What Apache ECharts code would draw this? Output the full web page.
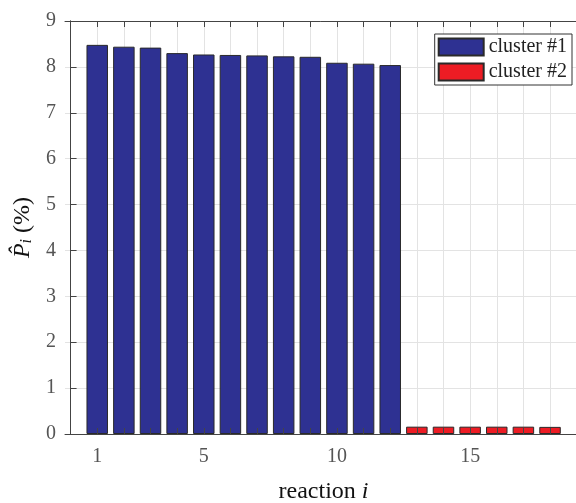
<!DOCTYPE html>
<html><head><meta charset="utf-8">
<script src="https://cdn.jsdelivr.net/npm/echarts@6/dist/echarts.min.js"></script>
<style>html,body{margin:0;padding:0;background:#fff}#c{width:576px;height:503px}</style>
</head><body><div id="c"></div>
<script>
const reactions1 = [1,2,3,4,5,6,7,8,9,10,11,12];
const values1 = [8.48,8.44,8.42,8.30,8.27,8.26,8.25,8.23,8.22,8.09,8.07,8.04];
const reactions2 = [13,14,15,16,17,18];
const values2 = [0.16,0.16,0.16,0.16,0.16,0.155];
const xTickValues = [1,2,3,4,5,6,7,8,9,10,11,12,13,14,15,16,17,18];
const xLabelValues = [1,5,10,15];
const seriesNames = ['cluster #1','cluster #2'];

const FONT = 'Liberation Serif';
const chart = echarts.init(document.getElementById('c'), null, {renderer:'canvas'});
const axisCol = '#444';
const commonX = {
  type:'value', min:-0.21, max:19.2,
  axisLine:{show:true,onZero:false,lineStyle:{color:axisCol,width:1}},
};
chart.setOption({
  animation:false,
  grid:{left:65,right:-6,top:21,bottom:69,containLabel:false,outerBoundsMode:'none'},
  legend:{
    orient:'vertical', right:4, top:34,
    data:seriesNames,
    itemWidth:45, itemHeight:17, itemGap:5,
    padding:[3,5,3,3],
    borderColor:'#333', borderWidth:1, backgroundColor:'#fff',
    textStyle:{fontFamily:FONT,fontSize:20,color:'#222'},
    icon:'rect'
  },
  xAxis:[
    Object.assign({}, commonX, {
      position:'bottom', z:10,
      axisTick:{show:true,inside:true,length:6,lineStyle:{color:axisCol},customValues:xTickValues},
      axisLabel:{show:true,customValues:xLabelValues,margin:13,fontFamily:FONT,fontSize:20,color:'#555'},
      splitLine:{show:false},
      name:'reaction {it|i}', nameLocation:'middle', nameGap:46,
      nameTextStyle:{fontFamily:FONT,fontSize:24,color:'#111',rich:{it:{fontFamily:FONT,fontStyle:'italic',fontSize:24,color:'#111'}}}
    }),
    Object.assign({}, commonX, {
      position:'top', z:0,
      axisTick:{show:true,inside:true,length:6,lineStyle:{color:axisCol},customValues:xTickValues},
      axisLabel:{show:false},
      splitLine:{show:true,lineStyle:{color:'#e3e3e3',width:1}}
    })
  ],
  yAxis:[
    {
      type:'value', min:0, max:9, interval:1, position:'left',
      axisLine:{show:true,lineStyle:{color:axisCol,width:1}},
      axisTick:{show:true,inside:true,length:6,lineStyle:{color:axisCol}},
      axisLabel:{margin:9,fontFamily:FONT,fontSize:20,color:'#555'},
      splitLine:{show:true,lineStyle:{color:'#e3e3e3',width:1}},
      name:'{p|P\u0302}{sub|i}{n| (%)}', nameLocation:'middle', nameGap:27,
      nameTextStyle:{fontFamily:FONT,fontSize:24,color:'#111',
        rich:{
          p:{fontFamily:FONT,fontStyle:'italic',fontSize:24,color:'#111'},
          sub:{fontFamily:FONT,fontStyle:'italic',fontSize:16,color:'#111',verticalAlign:'bottom',padding:[8,0,0,0]},
          n:{fontFamily:FONT,fontSize:24,color:'#111'}
        }}
    },
    {
      type:'value', min:0, max:9, interval:1, position:'right',
      axisLine:{show:true,lineStyle:{color:axisCol,width:1}},
      axisTick:{show:false}, axisLabel:{show:false}, splitLine:{show:false}
    }
  ],
  series:[
    {
      name:seriesNames[0], type:'bar', xAxisIndex:0, yAxisIndex:0,
      barWidth:21.5, barGap:'-100%',
      data:reactions1.map((r,i)=>[r,values1[i]]),
      itemStyle:{color:'#2e3192',borderColor:'#2a2a2a',borderWidth:1}
    },
    {
      name:seriesNames[1], type:'bar', xAxisIndex:0, yAxisIndex:0,
      barWidth:21.5, barGap:'-100%',
      data:reactions2.map((r,i)=>[r,values2[i]]),
      itemStyle:{color:'#ed1c24',borderColor:'#2a2a2a',borderWidth:1}
    }
  ]
});
</script></body></html>
